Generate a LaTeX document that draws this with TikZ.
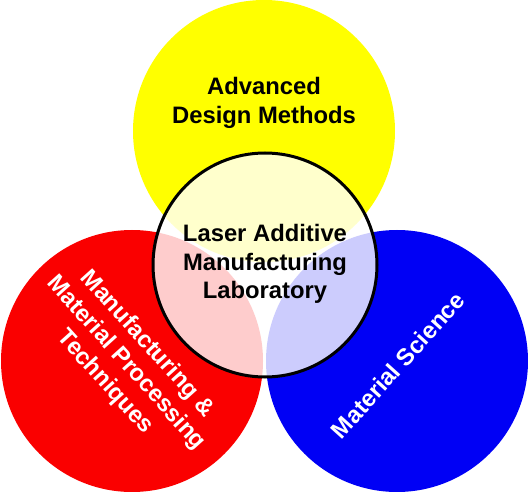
\documentclass[tikz,border=0pt]{standalone}
\usepackage{fontspec}
\setmainfont{Liberation Sans}
\begin{document}
\begin{tikzpicture}[x=1pt,y=-1pt,
  setcircle/.style={circle,minimum size=262pt,inner sep=0pt},
  hub/.style={circle,minimum size=224pt,inner sep=0pt,draw=black,line width=3pt,fill=white,fill opacity=0.8,text opacity=1},
  lbl/.style={font=\fontsize{23.8}{28.5}\selectfont\bfseries,align=center}]
\useasboundingbox (0,0) rectangle (528,492);
\node[setcircle,fill={rgb,255:red,255;green,255;blue,0}] (design) at (264,131) {};
\node[setcircle,fill={rgb,255:red,250;green,0;blue,0}] (manuf) at (132,361) {};
\node[setcircle,fill={rgb,255:red,0;green,0;blue,245}] (matsci) at (397,361) {};
\node[hub] (lab) at (265,265) {};
\node[lbl] (labtext) at (265,264) {Laser Additive\\Manufacturing\\Laboratory};
\node[lbl] (designtext) at (264,103) {Advanced\\Design Methods};
\node[lbl,text=white,rotate=-48] (manuftext) at (126,363) {Manufacturing \&\\Material Processing\\Techniques};
\node[lbl,text=white,rotate=48] (matscitext) at (398,365) {Material Science};
\end{tikzpicture}
\end{document}
